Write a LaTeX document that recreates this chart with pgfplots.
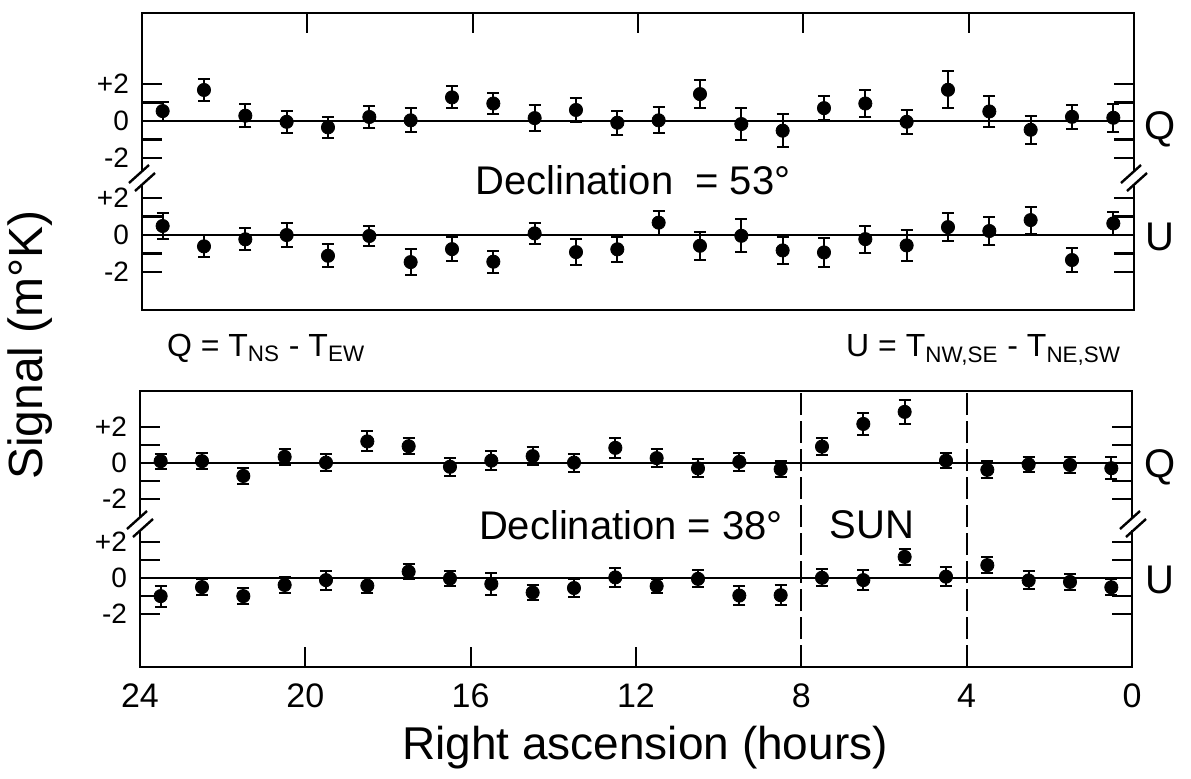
\documentclass[border=0pt]{standalone}
\usepackage{pgfplots}
\pgfplotsset{compat=1.18}
\usepackage{pgfplotstable}
\usepackage{fontspec}
\setmainfont{Liberation Sans}

% declination 53 deg: Q and U (mK) with errors
\pgfplotstableread{
ra   q     qe    u     ue
23.5 0.54  0.51  0.49  0.70
22.5 1.68  0.60 -0.61  0.60
21.5 0.29  0.62 -0.23  0.59
20.5 -0.04 0.60  0.00  0.66
19.5 -0.34 0.55 -1.12  0.62
18.5 0.22  0.62 -0.05  0.56
17.5 0.04  0.65 -1.46  0.69
16.5 1.28  0.60 -0.76  0.65
15.5 0.95  0.57 -1.44  0.59
14.5 0.16  0.70  0.09  0.58
13.5 0.60  0.65 -0.92  0.70
12.5 -0.09 0.66 -0.77  0.68
11.5 0.04  0.71  0.67  0.65
10.5 1.46  0.77 -0.58  0.75
9.5  -0.16 0.84 -0.04  0.90
8.5  -0.52 0.88 -0.83  0.74
7.5  0.70  0.66 -0.94  0.76
6.5  0.95  0.71 -0.22  0.73
5.5  -0.04 0.66 -0.56  0.82
4.5  1.69  1.00  0.43  0.75
3.5  0.52  0.82  0.22  0.78
2.5  -0.47 0.77  0.81  0.73
1.5  0.23  0.65 -1.35  0.63
0.5  0.18  0.76  0.63  0.60
}\decA

% declination 38 deg
\pgfplotstableread{
ra   q     qe    u     ue
23.5 0.10  0.42 -1.00  0.58
22.5 0.10  0.45 -0.50  0.46
21.5 -0.72 0.45 -1.00  0.45
20.5 0.34  0.45 -0.38  0.46
19.5 0.02  0.48 -0.11  0.53
18.5 1.20  0.55 -0.42  0.43
17.5 0.93  0.45  0.36  0.40
16.5 -0.21 0.50 -0.02  0.44
15.5 0.13  0.52 -0.32  0.60
14.5 0.38  0.50 -0.80  0.43
13.5 0.02  0.50 -0.55  0.50
12.5 0.84  0.56  0.04  0.54
11.5 0.27  0.52 -0.44  0.41
10.5 -0.30 0.50 -0.04  0.48
9.5  0.06  0.50 -0.97  0.52
8.5  -0.34 0.43 -0.95  0.57
7.5  0.91  0.48  0.02  0.46
6.5  2.17  0.62 -0.11  0.54
5.5  2.84  0.65  1.18  0.43
4.5  0.13  0.43  0.08  0.52
3.5  -0.38 0.48  0.72  0.45
2.5  -0.08 0.43 -0.13  0.50
1.5  -0.11 0.42 -0.21  0.43
0.5  -0.29 0.62 -0.51  0.45
}\decB

\pgfplotsset{
  sig/.style={
    scale only axis, width=496pt,
    xmin=0, xmax=24, x dir=reverse,
    axis line style={line width=1.3pt},
    major tick style={line width=1.1pt, black},
    major tick length=10pt,
    ytick pos=both, yticklabel pos=left,
    yticklabel style={font=\fontsize{14}{14}\selectfont, xshift=-3pt},
  },
  pt/.style={only marks, mark=*, mark size=3.3pt, black,
    error bars/.cd, y dir=both, y explicit,
    error bar style={line width=1pt, black},
    error mark options={black, line width=1pt, mark size=3pt, rotate=90}},
  zl/.style={no marks, black, line width=1.1pt},
}

\newcommand\brk[2]{\begin{scope}[shift={(#1,#2)}]
  \fill[white] (-4,-6) rectangle (4,6);
  \draw[line width=1.2pt] (-13,5)--(7,-13);
  \draw[line width=1.2pt] (-7,13)--(13,-5);
\end{scope}}

\begin{document}
\begin{tikzpicture}[x=0.5pt,y=-0.5pt]
\useasboundingbox (0,0) rectangle (1191,778);

\begin{axis}[sig, at={(71pt,-6.5pt)}, anchor=north west, height=148.5pt,
  ymin=-4.05, ymax=12.0,
  xtick={4,8,12,16,20}, xtick pos=right, xticklabel pos=right,
  xticklabels={~,~,~,~,~},
  x tick style={line width=1.1pt, black},
  ytick={-2,-1,0,1,2,4.16,5.16,6.16,7.16,8.16},
  yticklabels={{-2},{},{0},{},{+2},{-2},{},{0},{},{+2}}]
\addplot[zl] coordinates {(24,6.16) (0,6.16)};
\addplot[zl] coordinates {(24,0) (0,0)};
\addplot[pt] table[x=ra, y expr=\thisrow{q}+6.16, y error=qe]{\decA};
\addplot[pt] table[x=ra, y=u, y error=ue]{\decA};
\end{axis}

\begin{axis}[sig, at={(70pt,-195.5pt)}, anchor=north west, height=138pt,
  ymin=-4.94, ymax=10.4,
  xtick={0,4,8,12,16,20,24}, xtick pos=bottom,
  xticklabels={0,4,8,12,16,20,24},
  xticklabel style={font=\fontsize{17}{17}\selectfont, yshift=-5pt},
  ytick={-2,-1,0,1,2,4.4,5.4,6.4,7.4,8.4},
  yticklabels={{-2},{},{0},{},{+2},{-2},{},{0},{},{+2}}]
\addplot[zl] coordinates {(24,6.4) (0,6.4)};
\addplot[zl] coordinates {(24,0) (0,0)};
\addplot[no marks, black, line width=0.9pt, dash pattern=on 11pt off 3pt] coordinates {(8,-4.94) (8,10.4)};
\addplot[no marks, black, line width=0.9pt, dash pattern=on 11pt off 3pt] coordinates {(4,-4.94) (4,10.4)};
\addplot[pt] table[x=ra, y expr=\thisrow{q}+6.4, y error=qe]{\decB};
\addplot[pt] table[x=ra, y=u, y error=ue]{\decB};
\end{axis}

\brk{142}{178}
\brk{1134}{178}
\brk{140}{524}
\brk{1133}{524}

\node[font=\fontsize{20}{20}\selectfont] at (633,180) {Declination\ \ = 53°};
\node[font=\fontsize{20}{20}\selectfont] at (631,525) {Declination = 38°};
\node[font=\fontsize{20}{20}\selectfont] at (872,525) {SUN};

\node[font=\fontsize{20}{20}\selectfont] at (1160,129) {Q};
\node[font=\fontsize{20}{20}\selectfont] at (1160,237) {U};
\node[font=\fontsize{20}{20}\selectfont] at (1160,467) {Q};
\node[font=\fontsize{20}{20}\selectfont] at (1160,580) {U};

\node[font=\fontsize{16}{16}\selectfont, anchor=west] at (160,348)
  {Q = T\textsubscript{NS} - T\textsubscript{EW}};
\node[font=\fontsize{16}{16}\selectfont, anchor=east] at (1128,350)
  {U = T\textsubscript{NW,SE} - T\textsubscript{NE,SW}};

\node[font=\fontsize{24}{24}\selectfont, rotate=90] at (30,345) {Signal (m°K)};
\node[font=\fontsize{23}{23}\selectfont] at (645,748) {Right ascension (hours)};
\end{tikzpicture}
\end{document}
